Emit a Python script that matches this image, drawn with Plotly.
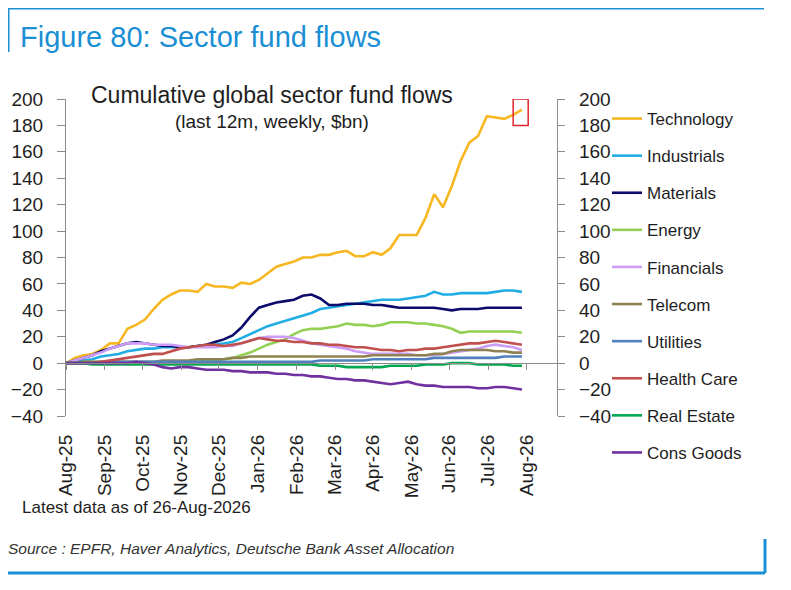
import pandas as pd
import plotly.graph_objects as go

# weekly observations, last one on 26-Aug-2026
dates = pd.date_range("2025-08-27", periods=53, freq="7D")

technology = [0, 4, 6, 7, 10, 15, 15, 26, 29, 33, 41, 48, 52, 55, 55, 54, 60, 58, 58, 57,
              61, 60, 63, 68, 73, 75, 77, 80, 80, 82, 82, 84, 85, 81, 81, 84, 82, 87, 97, 97,
              97, 110, 128, 118, 134, 153, 167, 172, 187, 186, 185, 188, 192]
industrials = [0, 1, 2, 3, 5, 6, 7, 9, 10, 11, 11, 12, 12, 12, 12, 13, 13, 14, 15, 16,
               19, 22, 25, 28, 30, 32, 34, 36, 38, 41, 42, 43, 44, 45, 46, 47, 48, 48, 48, 49,
               50, 51, 54, 52, 52, 53, 53, 53, 53, 54, 55, 55, 54]
materials = [0, 2, 4, 6, 9, 11, 13, 15, 16, 15, 14, 13, 13, 12, 12, 13, 14, 16, 18, 21,
             27, 35, 42, 44, 46, 47, 48, 51, 52, 49, 44, 44, 45, 45, 45, 44, 44, 43, 42, 42,
             42, 42, 42, 41, 40, 41, 41, 41, 42, 42, 42, 42, 42]
energy = [0, 0, 1, 1, 1, 1, 1, 0, 0, 0, 0, 1, 1, 1, 1, 1, 2, 2, 3, 4,
          6, 8, 11, 14, 16, 18, 22, 25, 26, 26, 27, 28, 30, 29, 29, 28, 29, 31, 31, 31,
          30, 30, 29, 28, 26, 23, 24, 24, 24, 24, 24, 24, 23]
financials = [0, 2, 4, 6, 8, 11, 13, 15, 15, 15, 14, 14, 14, 13, 12, 12, 12, 12, 13, 13,
              15, 17, 19, 20, 20, 20, 19, 17, 15, 14, 13, 12, 11, 9, 8, 7, 7, 7, 7, 7,
              6, 6, 6, 7, 8, 9, 10, 11, 13, 14, 13, 12, 10]
telecom = [0, 0, 1, 1, 1, 1, 1, 1, 1, 1, 1, 2, 2, 2, 2, 3, 3, 3, 3, 4,
           4, 5, 5, 5, 5, 5, 5, 5, 5, 5, 5, 5, 5, 5, 5, 6, 6, 6, 6, 6,
           6, 6, 7, 7, 9, 10, 10, 10, 10, 9, 9, 8, 8]
utilities = [0, 0, 0, 0, 0, 1, 1, 1, 1, 1, 1, 1, 1, 1, 1, 1, 1, 1, 1, 1,
             1, 1, 1, 1, 1, 1, 1, 1, 1, 2, 2, 2, 2, 2, 2, 3, 3, 3, 3, 3,
             3, 3, 4, 4, 4, 4, 4, 4, 4, 4, 5, 5, 5]
health_care = [0, 0, 0, 0, 1, 2, 3, 4, 5, 6, 7, 7, 9, 11, 12, 13, 14, 14, 13, 14,
               15, 17, 19, 18, 17, 17, 16, 16, 15, 15, 14, 14, 13, 12, 12, 11, 10, 10, 9, 10,
               10, 11, 11, 12, 13, 14, 15, 15, 16, 17, 16, 15, 14]
real_estate = [0, 0, 0, -1, -1, -1, -1, -1, -1, -1, -1, -1, -1, -1, -1, -1, -1, -1, -1, -1,
               -1, -1, -1, -1, -1, -1, -1, -1, -1, -2, -2, -2, -3, -3, -3, -3, -3, -2, -2, -2,
               -2, -1, -1, -1, 0, 0, 0, -1, -1, -1, -1, -2, -2]
cons_goods = [0, 0, 0, 0, 0, 0, 0, 0, 1, 0, -1, -3, -4, -3, -3, -4, -5, -5, -5, -6,
              -6, -7, -7, -7, -8, -8, -9, -9, -10, -10, -11, -12, -12, -13, -13, -14, -15, -16, -15, -14,
              -16, -17, -17, -18, -18, -18, -18, -19, -19, -18, -18, -19, -20]

sectors = ["Technology", "Industrials", "Materials", "Energy", "Financials",
           "Telecom", "Utilities", "Health Care", "Real Estate", "Cons Goods"]
series = [technology, industrials, materials, energy, financials,
          telecom, utilities, health_care, real_estate, cons_goods]
colors = ["#f6b722", "#21ade3", "#0b0b6b", "#92cf52", "#cc9cf7",
          "#8e8350", "#4f80bd", "#c0504d", "#00a850", "#7030a0"]

# the page puts the figure 8px in from the top-left corner, so work in page pixels
OFF = 8
W, H = 791 - OFF, 590 - OFF
L, R, T, B = 66, 557, 99, 416   # plot area, page pixels


def px(x):
    return (x - L) / (R - L)


def py(y):
    return (B - y) / (B - T)


fig = go.Figure()
for name, vals, col in zip(sectors, series, colors):
    fig.add_trace(go.Scatter(x=dates, y=vals, name=name, legendgroup=name,
                             mode="lines", line=dict(color=col, width=2.6)))

# helper trace so the zero-line tick axis and the right axis get drawn
fig.add_trace(go.Scatter(x=dates[:1], y=[None], xaxis="x2", yaxis="y2",
                         showlegend=False, hoverinfo="skip"))

xrange = [dates[0], dates[-1] + pd.Timedelta(days=28)]
font = "Arial, Liberation Sans, sans-serif"
ink = "#1e1e1e"
axis_grey = "#8c8c8c"

fig.update_layout(
    width=W, height=H, autosize=False,
    margin=dict(l=L - OFF, r=W - (R - OFF), t=T - OFF, b=H - (B - OFF)),
    paper_bgcolor="white", plot_bgcolor="white",
    font=dict(family=font, color=ink),
    xaxis=dict(range=xrange, type="date", tick0=dates[0], dtick="M1", tickformat="%b-%y",
               tickangle=-90, ticks="", showline=False, showgrid=False, zeroline=False,
               tickfont=dict(size=19), ticklabelstandoff=14, automargin=False),
    xaxis2=dict(range=xrange, type="date", tick0=dates[0], dtick="M1", overlaying="x",
                anchor="free", position=40 / 240, showticklabels=False,
                ticks="outside", ticklen=6, tickcolor=axis_grey, showline=True,
                linecolor=axis_grey, linewidth=1.2, showgrid=False, zeroline=False,
                automargin=False),
    yaxis=dict(range=[-40, 200], dtick=20, ticks="outside", ticklen=8, tickcolor=axis_grey,
               showline=True, linecolor=axis_grey, linewidth=1.2, showgrid=False,
               zeroline=False, tickfont=dict(size=19), ticklabelstandoff=10,
               automargin=False),
    yaxis2=dict(range=[-40, 200], dtick=20, overlaying="y", side="right", anchor="x",
                ticks="outside", ticklen=7, tickcolor=axis_grey, showline=True,
                linecolor=axis_grey, linewidth=1.2, showgrid=False, zeroline=False,
                tickfont=dict(size=19), ticklabelstandoff=10, automargin=False),
    legend=dict(x=px(607), y=py(101), xanchor="left", yanchor="top", maxheight=440,
                font=dict(size=17), tracegroupgap=12, bgcolor="rgba(0,0,0,0)"),
    showlegend=True,
)

# highlight around the latest reading
fig.add_shape(type="rect", xref="x", yref="y",
              x0=dates[-1] - pd.Timedelta(days=7), x1=dates[-1] + pd.Timedelta(days=5),
              y0=technology[-1] - 12, y1=technology[-1] + 8,
              line=dict(color="#e0262c", width=1.5))

# blue frame pieces
blue = "#1a8fd4"
for x0, y0, x1, y1 in [(7, 8, 764, 8), (8, 8, 8, 52), (8, 573, 765, 573), (765, 539, 765, 573)]:
    fig.add_shape(type="line", xref="paper", yref="paper",
                  x0=px(x0), y0=py(y0), x1=px(x1), y1=py(y1),
                  line=dict(color=blue, width=3))

fig.add_annotation(text="Figure 80: Sector fund flows", xref="paper", yref="paper",
                   x=px(18), y=py(37), xanchor="left", yanchor="middle", showarrow=False,
                   font=dict(size=29, color=blue))
fig.add_annotation(text="Cumulative global sector fund flows", xref="paper", yref="paper",
                   x=px(272), y=py(95), xanchor="center", yanchor="middle", showarrow=False,
                   font=dict(size=23, color=ink))
fig.add_annotation(text="(last 12m, weekly, $bn)", xref="paper", yref="paper",
                   x=px(272), y=py(121), xanchor="center", yanchor="middle", showarrow=False,
                   font=dict(size=19, color=ink))
fig.add_annotation(text="Latest data as of 26-Aug-2026", xref="paper", yref="paper",
                   x=px(20), y=py(507), xanchor="left", yanchor="middle", showarrow=False,
                   font=dict(size=17, color=ink))
fig.add_annotation(text="<i>Source : EPFR, Haver Analytics, Deutsche Bank Asset Allocation</i>",
                   xref="paper", yref="paper", x=px(6), y=py(548), xanchor="left",
                   yanchor="middle", showarrow=False, font=dict(size=15.5, color="#333333"))

fig.write_html("out.html")
